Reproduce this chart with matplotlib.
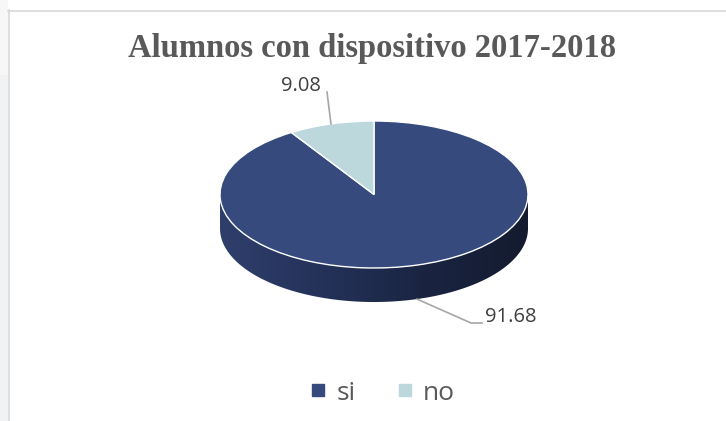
import matplotlib.pyplot as plt
import numpy as np
from matplotlib.patches import Rectangle, Polygon
from matplotlib.lines import Line2D
from matplotlib.colors import LinearSegmentedColormap

# data
labels = ['si', 'no']
values = [91.68, 9.08]
colors = ['#364a7e', '#bcd8dc']
title = 'Alumnos con dispositivo 2017-2018'

W, H = 726, 421
cx, cy = 374, 194.5      # pie centre, pixels
rx, ry = 154, 73.5       # pie radii, pixels
depth = 34 / ry          # thickness of the 3d side, in y units


def fx(px):
    return px / W


def fy(py):
    return 1 - py / H


def dx(px):
    return (px - cx) / rx


def dy(py):
    return (cy - py) / ry


fig = plt.figure(figsize=(W / 100, H / 100), dpi=100)
fig.patch.set_facecolor('white')

# window frame bits
fig.add_artist(Rectangle((0, 0), fx(8), fy(75), transform=fig.transFigure,
                         facecolor='#f1f2f4', edgecolor='none'))
fig.add_artist(Rectangle((0, fy(75)), fx(8), 1 - fy(75), transform=fig.transFigure,
                         facecolor='#f7f7f8', edgecolor='none'))
fig.add_artist(Line2D([fx(8), 1], [fy(10.5), fy(10.5)], transform=fig.transFigure,
                      color='#d9d9d9', lw=1.2))
fig.add_artist(Line2D([fx(8.5), fx(8.5)], [fy(10), 0], transform=fig.transFigure,
                      color='#d9d9d9', lw=1.2))

ax = fig.add_axes([0, 0, 1, 1])
wedges, _ = ax.pie(values, colors=colors, startangle=90, counterclock=False,
                   radius=1, center=(0, 0),
                   wedgeprops=dict(edgecolor='white', linewidth=1.0, zorder=3))
ax.set_aspect('auto')
ax.axis('off')

# 3d side of the pie with a left-to-right shading
t = np.linspace(np.pi, 2 * np.pi, 300)
top = np.column_stack([np.cos(t), np.sin(t)])
bot = np.column_stack([np.cos(t), np.sin(t) - depth])[::-1]
side = Polygon(np.vstack([top, bot]), closed=True, facecolor='none', edgecolor='none')
ax.add_patch(side)
cmap = LinearSegmentedColormap.from_list('side', ['#2f3f6c', '#243259', '#1a2441', '#141b30'])
grad = np.linspace(0, 1, 256).reshape(1, -1)
img = ax.imshow(grad, cmap=cmap, extent=(-1, 1, -1 - depth, 0), aspect='auto',
                zorder=1, interpolation='bilinear')
img.set_clip_path(side)
ax.set_xlim(dx(0), dx(W))
ax.set_ylim(dy(H), dy(0))

# data labels with leader lines
total = sum(values)
angles = []
a0 = 90
for v in values:
    a1 = a0 - v / total * 360
    angles.append(np.deg2rad((a0 + a1) / 2))
    a0 = a1

lab_col = '#404040'
line_col = '#a6a6a6'
# si (bottom right, on the side)
ang = angles[0]
px0, py0 = np.cos(ang), np.sin(ang) - depth
ax.plot([px0, dx(471), dx(482)], [py0, dy(323), dy(323)], color=line_col, lw=1.2, zorder=4)
ax.text(dx(485), dy(317), f'{values[0]:.2f}', ha='left', va='center', fontsize=14.5,
        family='Open Sans', color=lab_col)
# no (top left)
ang = angles[1]
px1, py1 = np.cos(ang), np.sin(ang)
ax.plot([px1, dx(327)], [py1, dy(92)], color=line_col, lw=1.2, zorder=4)
ax.text(dx(301), dy(86), f'{values[1]:.2f}', ha='center', va='center', fontsize=14.5,
        family='Open Sans', color=lab_col)

fig.text(fx(372), fy(49), title, ha='center', va='center', fontsize=23.5,
         family='Liberation Serif', weight='bold', color='#595959')

handles = [Line2D([], [], marker='s', ls='none', markersize=9, color=c) for c in colors]
fig.legend(handles, labels, loc='center', bbox_to_anchor=(fx(382), fy(393)),
           ncol=2, frameon=False, prop=dict(family='Open Sans', size=19),
           labelcolor='#595959', handlelength=0.7, handletextpad=0.35,
           columnspacing=1.5)

fig.savefig('out.png', dpi=100)
